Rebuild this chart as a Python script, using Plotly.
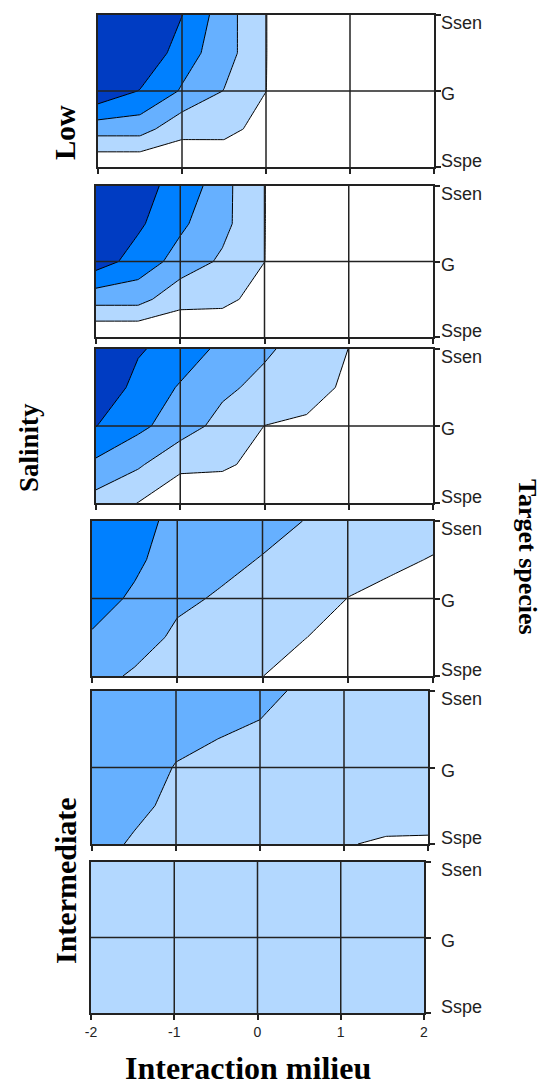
import plotly.graph_objects as go

# ---------------- data ----------------
X_VALUES = [-2, -1.5, -1, -0.5, 0, 0.5, 1, 1.5, 2]
Y_VALUES = [0, 0.5, 1, 1.5, 2]
X_TICKS = [-2, -1, 0, 1, 2]
X_TICK_LABELS = ["-2", "-1", "0", "1", "2"]
Y_TICKS = [0, 1, 2]
Y_TICK_LABELS = ["Sspe", "G", "Ssen"]
LEVELS = [1, 2, 3, 4]

# rows follow Y_VALUES (Sspe -> Ssen), columns follow X_VALUES
Z_PANEL_1 = [
    [0.05, 0.05, 0.30, 0.00, 0.00, 0, 0, 0, 0],
    [2.43, 2.43, 1.27, 1.39, 0.54, 0, 0, 0, 0],
    [4.80, 3.95, 2.90, 1.97, 1.01, 0, 0, 0, 0],
    [5.50, 5.00, 3.45, 2.46, 1.02, 0, 0, 0, 0],
    [6.00, 5.50, 4.02, 2.46, 1.02, 0, 0, 0, 0],
]
Z_PANEL_2 = [
    [0.00, 0.00, 0.30, 0.00, 0.00, 0, 0, 0, 0],
    [2.38, 2.38, 1.27, 1.32, 0.52, 0, 0, 0, 0],
    [4.50, 3.57, 2.62, 1.83, 1.01, 0, 0, 0, 0],
    [5.20, 4.17, 3.18, 2.30, 1.02, 0, 0, 0, 0],
    [5.80, 4.20, 3.80, 2.32, 1.02, 0, 0, 0, 0],
]
Z_PANEL_3 = [
    [1.59, 0.98, 0.30, 0.00, 0.00, 0.00, 0.00, 0, 0],
    [2.79, 2.14, 1.22, 1.22, 0.57, 0.00, 0.00, 0, 0],
    [4.02, 3.24, 2.48, 1.67, 0.99, 0.80, 0.00, 0, 0],
    [5.00, 3.60, 2.92, 2.20, 1.73, 1.47, 0.78, 0, 0],
    [6.00, 4.13, 3.47, 2.80, 2.15, 1.60, 0.99, 0, 0],
]
Z_PANEL_4 = [
    [2.40, 1.85, 1.50, 1.30, 1.01, 0.60, 0.30, 0.10, 0.00],
    [2.90, 2.50, 1.80, 1.55, 1.30, 1.02, 0.65, 0.40, 0.30],
    [3.40, 2.85, 2.20, 1.90, 1.60, 1.40, 0.99, 0.75, 0.60],
    [3.80, 3.19, 2.51, 2.26, 1.95, 1.70, 1.30, 1.18, 0.95],
    [3.90, 3.40, 2.69, 2.50, 2.31, 1.98, 1.60, 1.45, 1.35],
]
Z_PANEL_5 = [
    [2.50, 1.85, 1.50, 1.40, 1.30, 1.20, 1.05, 0.90, 0.85],
    [2.60, 2.30, 1.70, 1.50, 1.40, 1.30, 1.20, 1.40, 1.50],
    [2.70, 2.50, 1.95, 1.70, 1.60, 1.45, 1.35, 1.40, 1.40],
    [2.80, 2.60, 2.30, 2.10, 1.90, 1.65, 1.50, 1.50, 1.50],
    [2.90, 2.70, 2.50, 2.40, 2.30, 1.83, 1.65, 1.60, 1.60],
]
Z_PANEL_6 = [
    [1.5, 1.5, 1.5, 1.5, 1.5, 1.5, 1.5, 1.5, 1.5],
    [1.5, 1.5, 1.5, 1.5, 1.5, 1.5, 1.5, 1.5, 1.5],
    [1.5, 1.5, 1.5, 1.5, 1.5, 1.5, 1.5, 1.5, 1.5],
    [1.5, 1.5, 1.5, 1.5, 1.5, 1.5, 1.5, 1.5, 1.5],
    [1.5, 1.5, 1.5, 1.5, 1.5, 1.5, 1.5, 1.5, 1.5],
]
PANELS = [Z_PANEL_1, Z_PANEL_2, Z_PANEL_3, Z_PANEL_4, Z_PANEL_5, Z_PANEL_6]

# ---------------- style / layout ----------------
W, H = 548, 1085
# panel boxes in pixels: (left, right, top, bottom)
BOXES = [
    (98, 434, 15, 167),
    (96, 433, 186, 337),
    (96, 433, 349, 503),
    (92, 433, 521, 676),
    (92, 428, 691, 844),
    (91, 424, 862, 1013),
]
COLORSCALE = [
    [0.00, "#ffffff"],
    [0.25, "#b3d8ff"],
    [0.50, "#66b0ff"],
    [0.75, "#0080ff"],
    [1.00, "#003cc2"],
]
AXIS_COLOR = "#222222"
TICK_FONT = dict(family="Liberation Sans, Arial", size=14, color="#222222")
YTICK_FONT = dict(family="Liberation Sans, Arial", size=18, color="#222222")
TITLE_FONT = "Liberation Serif, Times New Roman, serif"
YLABEL_X = 439          # left edge of the right-hand labels, px
YLABEL_SHIFT = [6, -3, -8]  # vertical nudge of Sspe, G, Ssen labels, px

fig = go.Figure()
layout = dict(
    width=W, height=H,
    margin=dict(l=0, r=0, t=0, b=0, autoexpand=False),
    paper_bgcolor="white", plot_bgcolor="white",
    showlegend=False,
    shapes=[], annotations=[],
)

for i, (z, box) in enumerate(zip(PANELS, BOXES), start=1):
    xa, ya = f"x{i}", f"y{i}"
    fig.add_trace(go.Contour(
        x=X_VALUES, y=Y_VALUES, z=z,
        xaxis=xa, yaxis=ya,
        autocontour=False,
        contours=dict(start=LEVELS[0], end=LEVELS[-1], size=LEVELS[1] - LEVELS[0],
                      coloring="fill", showlines=True),
        colorscale=COLORSCALE,
        line=dict(color="black", width=1, smoothing=0),
        showscale=False, hoverinfo="skip",
    ))
    left, right, top, bottom = box
    last = i == len(PANELS)
    layout[f"xaxis{i}"] = dict(
        domain=[left / W, right / W], range=[X_TICKS[0], X_TICKS[-1]],
        anchor=ya, tickmode="array", tickvals=X_TICKS,
        ticktext=X_TICK_LABELS,
        showticklabels=last, tickfont=TICK_FONT,
        ticks="outside", ticklen=5, tickwidth=1.5, tickcolor=AXIS_COLOR,
        showline=True, linecolor=AXIS_COLOR, linewidth=1.5, mirror=True,
        showgrid=False, zeroline=False, fixedrange=True, automargin=False,
    )
    layout[f"yaxis{i}"] = dict(
        domain=[1 - bottom / H, 1 - top / H], range=[Y_TICKS[0], Y_TICKS[-1]],
        anchor=xa, side="right", tickmode="array", tickvals=Y_TICKS,
        showticklabels=False,
        ticks="outside", ticklen=5, tickwidth=1.5, tickcolor=AXIS_COLOR,
        showline=True, linecolor=AXIS_COLOR, linewidth=1.5, mirror=True,
        showgrid=False, zeroline=False, fixedrange=True, automargin=False,
    )
    # grid lines drawn above the filled contours
    for xv in X_TICKS[1:-1]:
        layout["shapes"].append(dict(
            type="line", xref=xa, yref=ya, x0=xv, x1=xv,
            y0=Y_TICKS[0], y1=Y_TICKS[-1], layer="above",
            line=dict(color=AXIS_COLOR, width=1.5)))
    for yv in Y_TICKS[1:-1]:
        layout["shapes"].append(dict(
            type="line", xref=xa, yref=ya, x0=X_TICKS[0], x1=X_TICKS[-1],
            y0=yv, y1=yv, layer="above",
            line=dict(color=AXIS_COLOR, width=1.5)))
    # right-hand category labels
    for yv, txt, dy in zip(Y_TICKS, Y_TICK_LABELS, YLABEL_SHIFT):
        layout["annotations"].append(dict(
            text=txt, xref="paper", yref=ya, x=YLABEL_X / W, y=yv,
            xanchor="left", yanchor="middle", yshift=dy, showarrow=False,
            font=YTICK_FONT))

def label(text, x, y, size, angle):
    layout["annotations"].append(dict(
        text=f"<b>{text}</b>", x=x / W, y=1 - y / H, xref="paper", yref="paper",
        xanchor="center", yanchor="middle", showarrow=False, textangle=angle,
        font=dict(family=TITLE_FONT, size=size, color="black")))

label("Low", 65, 133, 29, -90)
label("Salinity", 29, 448, 27, -90)
label("Intermediate", 65, 881, 30, -90)
label("Target species", 528, 557, 26, 90)
label("Interaction milieu", 248, 1068, 32, 0)

fig.update_layout(**layout)
fig.write_html("out.html")
